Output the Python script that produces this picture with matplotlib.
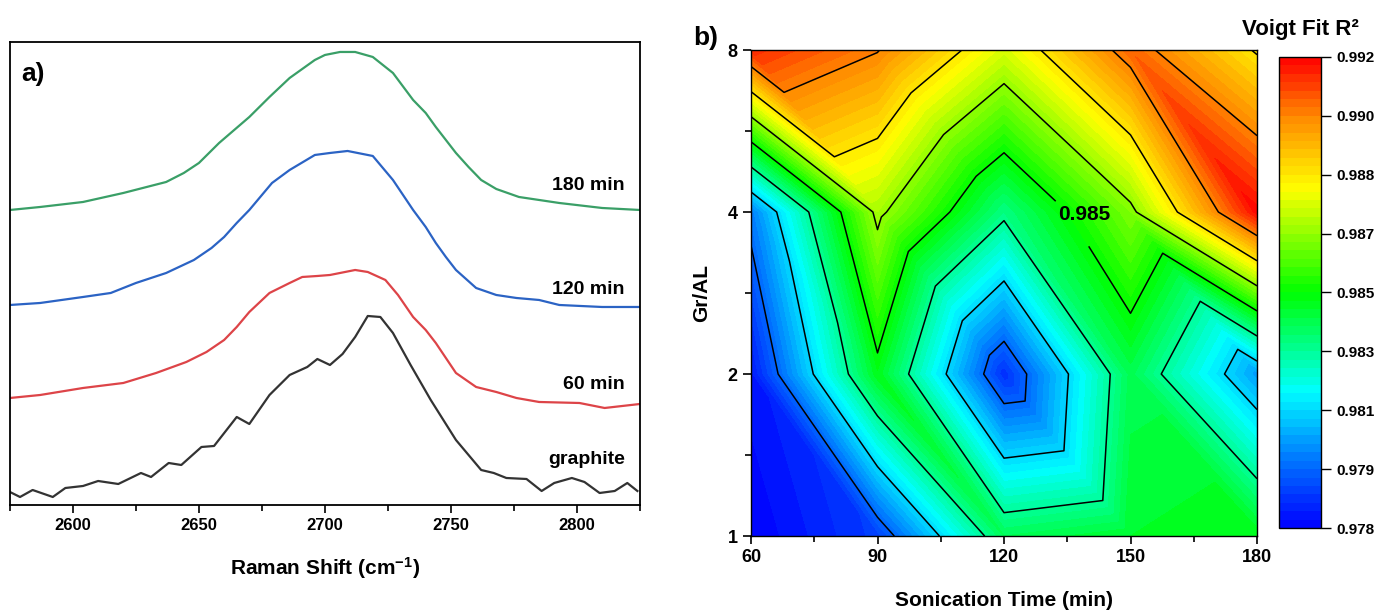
import numpy as np
import matplotlib.pyplot as plt
import matplotlib.tri as mtri
from matplotlib.colors import LinearSegmentedColormap
from matplotlib.ticker import MultipleLocator, FixedLocator

plt.rcParams['font.family'] = ['Liberation Sans', 'DejaVu Sans']
plt.rcParams['font.weight'] = 'bold'
plt.rcParams['mathtext.fontset'] = 'custom'
plt.rcParams['mathtext.rm'] = 'Liberation Sans:bold'
plt.rcParams['mathtext.bf'] = 'Liberation Sans:bold'
plt.rcParams['mathtext.default'] = 'rm'

# ---- a) Raman 2D band (intensity, arbitrary units, offsets included) ----
wn_180 = [2575, 2587, 2604, 2620, 2637, 2644, 2650, 2658, 2664, 2670, 2678, 2686, 2696,
          2700, 2706, 2712, 2719, 2727, 2735, 2740, 2744, 2752, 2757, 2762, 2768, 2777,
          2793, 2810, 2825]
int_180 = [2.95, 2.98, 3.03, 3.12, 3.23, 3.32, 3.42, 3.62, 3.75, 3.88, 4.08, 4.27, 4.45,
           4.50, 4.53, 4.53, 4.48, 4.32, 4.05, 3.92, 3.78, 3.52, 3.38, 3.25, 3.16, 3.08,
           3.02, 2.97, 2.95]

wn_120 = [2575, 2587, 2604, 2615, 2625, 2637, 2648, 2655, 2660, 2665, 2670, 2679, 2686,
          2692, 2696, 2702, 2709, 2719, 2727, 2731, 2735, 2740, 2744, 2748, 2752, 2760,
          2768, 2776, 2785, 2793, 2810, 2825]
int_120 = [2.00, 2.02, 2.08, 2.12, 2.22, 2.32, 2.45, 2.57, 2.68, 2.82, 2.95, 3.22, 3.35,
           3.44, 3.50, 3.52, 3.54, 3.49, 3.25, 3.10, 2.95, 2.78, 2.62, 2.48, 2.35, 2.17,
           2.10, 2.07, 2.05, 2.00, 1.98, 1.98]

wn_60 = [2575, 2587, 2604, 2620, 2633, 2645, 2653, 2660, 2665, 2670, 2678, 2686, 2691,
         2697, 2702, 2712, 2717, 2724, 2729, 2735, 2740, 2744, 2748, 2752, 2760, 2768,
         2776, 2785, 2801, 2811, 2825]
int_60 = [1.07, 1.10, 1.17, 1.22, 1.32, 1.43, 1.53, 1.65, 1.78, 1.93, 2.12, 2.22, 2.28,
          2.29, 2.30, 2.35, 2.33, 2.25, 2.10, 1.88, 1.75, 1.62, 1.47, 1.32, 1.18, 1.13,
          1.07, 1.03, 1.02, 0.97, 1.01]

wn_gr = [2575, 2579, 2584, 2592, 2597, 2604, 2610, 2618, 2627, 2631, 2638, 2643, 2651,
         2656, 2665, 2670, 2678, 2686, 2693, 2697, 2702, 2707, 2712, 2717, 2722, 2727,
         2734, 2742, 2752, 2762, 2767, 2772, 2780, 2786, 2791, 2798, 2803, 2809, 2815,
         2820, 2824]
int_gr = [0.13, 0.08, 0.15, 0.08, 0.17, 0.19, 0.24, 0.21, 0.32, 0.28, 0.42, 0.40, 0.58,
          0.59, 0.88, 0.81, 1.10, 1.30, 1.38, 1.46, 1.40, 1.51, 1.68, 1.89, 1.88, 1.72,
          1.40, 1.05, 0.65, 0.35, 0.32, 0.27, 0.26, 0.14, 0.22, 0.27, 0.23, 0.12, 0.14,
          0.22, 0.14]

spectra_labels = ['180 min', '120 min', '60 min', 'graphite']
label_heights = [3.19, 2.15, 1.20, 0.45]

# ---- b) Voigt fit R^2 map ----
sonication_time = [60, 90, 120, 150, 180]
gr_al = [1, 2, 4, 8]
r2_gr1 = [0.9777, 0.9791, 0.9840, 0.9845, 0.9847]
r2_gr2 = [0.9784, 0.9847, 0.9788, 0.9841, 0.9806]
r2_gr4 = [0.9801, 0.9870, 0.9835, 0.9865, 0.9919]
r2_gr8 = [0.9914, 0.9903, 0.9876, 0.9907, 0.9884]
cbar_labels = ['0.978', '0.979', '0.981', '0.983', '0.985', '0.987', '0.988', '0.990', '0.992']

fig = plt.figure(figsize=(13.8, 6.11), dpi=100)

# ---------------- panel a ----------------
ax1 = fig.add_axes([0.0072, 0.1735, 0.4565, 0.7578])
ax1.plot(wn_180, int_180, color='#3a9f67', lw=1.6)
ax1.plot(wn_120, int_120, color='#2b63c4', lw=1.6)
ax1.plot(wn_60, int_60, color='#dd4448', lw=1.6)
ax1.plot(wn_gr, int_gr, color='#333333', lw=1.6)
for lab, h in zip(spectra_labels, label_heights):
    ax1.text(2819, h, lab, ha='right', va='center', fontsize=14, fontweight='bold')
ax1.set_xlim(2575, 2825)
ax1.set_ylim(0, 4.63)
ax1.set_yticks([])
ax1.xaxis.set_major_locator(MultipleLocator(50))
ax1.xaxis.set_minor_locator(MultipleLocator(25))
ax1.tick_params(axis='x', which='major', direction='out', length=6, width=1.2, labelsize=12)
ax1.tick_params(axis='x', which='minor', direction='out', length=4, width=1.2)
ax1.set_xlabel('Raman Shift (cm$^{-1}$)', fontsize=15, fontweight='bold', labelpad=16)
for s in ax1.spines.values():
    s.set_linewidth(1.3)
ax1.text(0.018, 0.93, 'a)', transform=ax1.transAxes, fontsize=19, fontweight='bold',
         ha='left', va='center')

# ---------------- panel b ----------------
ax2 = fig.add_axes([0.5442, 0.1227, 0.3667, 0.7954])
ypos = np.log2(gr_al)
xx, yy = np.meshgrid(sonication_time, ypos)
zz = np.array([r2_gr1, r2_gr2, r2_gr4, r2_gr8])
nx, ny = len(sonication_time), len(gr_al)
triangles = []
for j in range(ny - 1):
    for i in range(nx - 1):
        bl = j * nx + i
        br = bl + 1
        tl = bl + nx
        tr = tl + 1
        triangles.append([bl, br, tl])
        triangles.append([br, tr, tl])
tri = mtri.Triangulation(xx.ravel(), yy.ravel(), triangles)

cmap = LinearSegmentedColormap.from_list('origin_rainbow', [
    (0.0, (0.0, 0.0, 1.0)),
    (0.125, (0.0, 0.40, 1.0)),
    (0.29, (0.0, 1.0, 1.0)),
    (0.5, (0.0, 1.0, 0.0)),
    (0.72, (1.0, 1.0, 0.0)),
    (0.87, (1.0, 0.55, 0.0)),
    (1.0, (1.0, 0.0, 0.0)),
])
vmin, vmax = 0.978, 0.992
fill_levels = np.linspace(vmin, vmax, 57)
line_levels = np.linspace(vmin, vmax, 9)
z_fill = np.clip(zz.ravel(), vmin + 1e-6, vmax - 1e-6)
cf = ax2.tricontourf(tri, z_fill, levels=fill_levels, cmap=cmap)
plain_levels = [lv for k, lv in enumerate(line_levels[1:-1]) if k != 3]
ax2.tricontour(tri, zz.ravel(), levels=plain_levels, colors='k', linewidths=1.1)
cs_lab = ax2.tricontour(tri, zz.ravel(), levels=[line_levels[4]], colors='k', linewidths=1.1)
lbls = ax2.clabel(cs_lab, inline=True, inline_spacing=2, fmt='%.3f', fontsize=15,
                  manual=[(140.5, 2.0)])
for t in lbls:
    t.set_fontweight('bold')
    t.set_rotation(0)
    px, py = t.get_position()
    t.set_position((px + 2.5, py + 0.05))

ax2.set_xlim(60, 180)
ax2.set_ylim(0, 3)
ax2.set_xticks(sonication_time)
ax2.xaxis.set_minor_locator(MultipleLocator(15))
ax2.set_yticks(ypos)
ax2.set_yticklabels([str(g) for g in gr_al])
ax2.yaxis.set_minor_locator(FixedLocator([0.5, 1.5, 2.5]))
ax2.tick_params(which='major', direction='out', length=6, width=1.2, labelsize=13)
ax2.tick_params(which='minor', direction='out', length=4, width=1.2)
ax2.set_xlabel('Sonication Time (min)', fontsize=15, fontweight='bold', labelpad=18)
ax2.set_ylabel('Gr/AL', fontsize=15, fontweight='bold', labelpad=12)
for s in ax2.spines.values():
    s.set_linewidth(1.0)
fig.text(0.5115, 0.938, 'b)', fontsize=19, fontweight='bold', ha='center', va='center')

# colour bar
cax = fig.add_axes([0.9268, 0.1358, 0.0304, 0.771])
cb = fig.colorbar(cf, cax=cax, ticks=line_levels)
cb.ax.set_yticklabels(cbar_labels)
cb.ax.tick_params(direction='out', length=7, width=1.0, labelsize=11, pad=4)
cb.outline.set_linewidth(1.0)
fig.text(0.942, 0.951, 'Voigt Fit R²', fontsize=16, fontweight='bold', ha='center', va='center')

fig.savefig('out.png', dpi=100)
